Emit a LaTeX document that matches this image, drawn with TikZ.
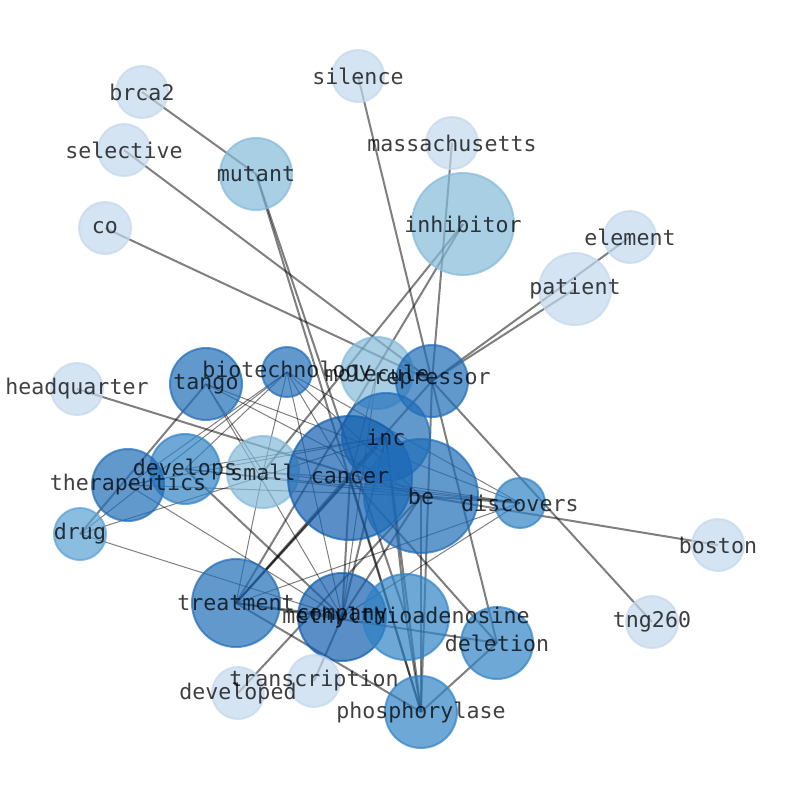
\documentclass[tikz,border=0pt]{standalone}
\usepackage{fontspec}
\setmonofont{DejaVu Sans Mono}
\usetikzlibrary{backgrounds}
\pgfdeclarelayer{foreground}
\pgfsetlayers{background,main,foreground}

\definecolor{b1}{RGB}{194,216,236}
\definecolor{b2}{RGB}{132,186,218}
\definecolor{b3}{RGB}{89,161,211}
\definecolor{b4}{RGB}{49,131,197}
\definecolor{b5}{RGB}{32,109,184}
\definecolor{b6}{RGB}{19,95,174}

\tikzset{
  word/.style 2 args={circle, inner sep=0pt, minimum size=#2*1.5pt,
    fill=#1, draw=#1, fill opacity=0.7, draw opacity=0.7, line width=1.5pt},
  tag/.style={font=\ttfamily\fontsize{16.2}{18}\selectfont, text=black,
    text opacity=0.75, inner sep=0pt},
  link/.style={draw=black, opacity=0.5, line width=1.5pt},
  thin link/.style={draw=black, opacity=0.5, line width=0.75pt}
}

\begin{document}
\begin{tikzpicture}[x=0.75pt,y=-0.75pt]
  \useasboundingbox (0,0) rectangle (794,790);

  % words
  \node[word={b1}{26}] (brca2) at (142,92) {};
  \node[word={b1}{26}] (silence) at (358,76) {};
  \node[word={b1}{26}] (selective) at (124,150) {};
  \node[word={b1}{26}] (massachusetts) at (452,143) {};
  \node[word={b2}{36}] (mutant) at (256,174) {};
  \node[word={b1}{26}] (co) at (105,228) {};
  \node[word={b2}{51}] (inhibitor) at (463,224) {};
  \node[word={b1}{26}] (element) at (630,237) {};
  \node[word={b1}{36}] (patient) at (575,289) {};
  \node[word={b1}{26}] (headquarter) at (77,389) {};
  \node[word={b5}{36}] (tango) at (206,384) {};
  \node[word={b5}{25}] (biotechnology) at (287,372) {};
  \node[word={b2}{36}] (molecule) at (377,373) {};
  \node[word={b5}{36}] (repressor) at (432,381) {};
  \node[word={b5}{44}] (inc) at (386,437) {};
  \node[word={b4}{35}] (develops) at (185,469) {};
  \node[word={b2}{36}] (small) at (263,472) {};
  \node[word={b6}{62}] (cancer) at (350,478) {};
  \node[word={b5}{57}] (be) at (421,496) {};
  \node[word={b5}{36}] (therapeutics) at (128,485) {};
  \node[word={b4}{25}] (discovers) at (520,503) {};
  \node[word={b3}{26}] (drug) at (80,534) {};
  \node[word={b1}{26}] (boston) at (718,545) {};
  \node[word={b5}{44}] (treatment) at (236,603) {};
  \node[word={b6}{44}] (company) at (342,617) {};
  \node[word={b4}{43}] (methylthioadenosine) at (406,617) {};
  \node[word={b4}{36}] (deletion) at (497,643) {};
  \node[word={b1}{26}] (tng260) at (652,622) {};
  \node[word={b1}{26}] (transcription) at (314,681) {};
  \node[word={b1}{26}] (developed) at (238,693) {};
  \node[word={b4}{36}] (phosphorylase) at (421,712) {};

  % links under the words
  \begin{pgfonlayer}{background}
    \foreach \a/\b in {brca2/mutant, mutant/methylthioadenosine, mutant/phosphorylase,
        silence/repressor, selective/repressor, co/repressor, massachusetts/repressor,
        inhibitor/small, inhibitor/treatment, element/repressor, patient/repressor,
        repressor/tng260, be/boston, headquarter/be, repressor/deletion,
        repressor/phosphorylase, repressor/treatment, cancer/treatment, inc/treatment,
        treatment/company, treatment/phosphorylase, treatment/deletion, drug/tango,
        develops/company, cancer/company, inc/company, be/company,
        cancer/phosphorylase, be/phosphorylase, inc/phosphorylase,
        methylthioadenosine/phosphorylase, deletion/phosphorylase, cancer/deletion,
        be/discovers, inc/methylthioadenosine, transcription/company, developed/be}
      \draw[link] (\a.center) -- (\b.center);
    \foreach \a/\b in {biotechnology/therapeutics, biotechnology/develops,
        biotechnology/drug, biotechnology/small, biotechnology/cancer,
        biotechnology/company, biotechnology/discovers, biotechnology/be,
        tango/discovers, tango/be, tango/company, tango/small, develops/inc,
        develops/be, develops/discovers, therapeutics/be, therapeutics/inc,
        therapeutics/company, drug/inc, drug/company, small/treatment,
        small/discovers, small/cancer, discovers/company, discovers/treatment,
        discovers/cancer, molecule/cancer, molecule/company}
      \draw[thin link] (\a.center) -- (\b.center);
  \end{pgfonlayer}

  % labels on top
  \begin{pgfonlayer}{foreground}
    \foreach \n in {brca2, silence, selective, massachusetts, mutant, co, inhibitor,
        element, patient, headquarter, tango, biotechnology, molecule, repressor,
        inc, develops, small, cancer, be, therapeutics, discovers, drug, boston,
        treatment, company, methylthioadenosine, deletion, tng260, transcription,
        developed, phosphorylase}
      \node[tag] (\n-t) at (\n) {\n};
  \end{pgfonlayer}
\end{tikzpicture}
\end{document}
